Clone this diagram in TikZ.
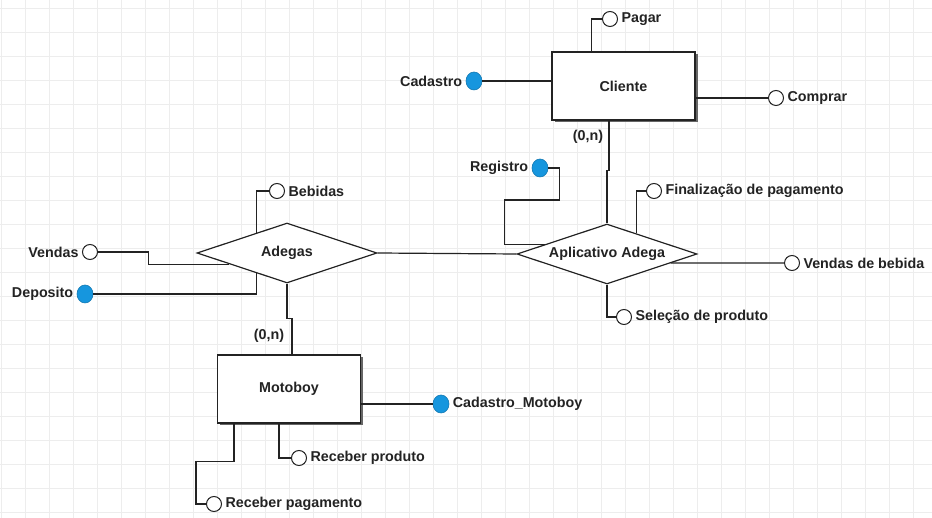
\documentclass[tikz,border=0pt]{standalone}
\usepackage{fontspec}
\setmainfont{Liberation Sans}
\usepackage{tikz}
\usetikzlibrary{shapes.geometric,shadows}
\definecolor{keyblue}{RGB}{22,150,222}
\definecolor{inkgray}{RGB}{35,35,35}

\begin{document}
\begin{tikzpicture}[x=1pt, y=-1pt,
		font=\fontsize{14.3}{16}\selectfont\bfseries, text=inkgray,
		gridline/.style={draw=black!7, line width=0.8pt},
		link/.style={draw=inkgray, line width=1.2pt},
		entity/.style={draw=inkgray, fill=white, line width=1.2pt, minimum width=143pt, minimum height=68pt,
			drop shadow={shadow xshift=2.5pt, shadow yshift=-2.5pt, fill=black!60, opacity=1}},
		relation/.style={diamond, draw=inkgray, fill=white, line width=1.2pt, inner sep=0pt, aspect=3,
			minimum width=180pt, minimum height=60pt},
		attr/.style={circle, draw=inkgray, fill=white, line width=1pt, inner sep=0pt, minimum size=15pt, label distance=2.5pt},
		keyattr/.style={ellipse, draw=keyblue!80!black, fill=keyblue, line width=0.6pt, inner sep=0pt,
			minimum width=16pt, minimum height=18pt, label distance=1.5pt},
		card/.style={inner sep=1pt}]
			% canvas
			\useasboundingbox (0,0) rectangle (932,518);
			\fill[white] (0,0) rectangle (932,518);
			\foreach \gx in {1,25,...,931} \draw[gridline] (\gx,0) -- (\gx,518);
			\foreach \gy in {8,32,...,512} \draw[gridline] (0,\gy) -- (932,\gy);
			% entities and relations
			\node[entity] (cliente) at (623.5,86) {Cliente};
			\node[entity] (motoboy) at (289,389) {Motoboy};
			\node[relation] (adegas) at (287,253) {Adegas};
			\node[relation] (aplicativo) at (607,254) {Aplicativo Adega};
			% attributes
			\node[attr, label=right:Pagar] (pagar) at (610,19) {};
			\node[keyattr, label=left:Cadastro] (cadastro) at (474,81) {};
			\node[attr, label=right:Comprar] (comprar) at (776,98) {};
			\node[keyattr, label=left:Registro] (registro) at (540,168) {};
			\node[attr, label=right:Finalização de pagamento] (finalizacao) at (654,191) {};
			\node[attr, label=right:Vendas de bebida] (vendasbebida) at (792,263) {};
			\node[attr, label=right:Seleção de produto] (selecao) at (624,317) {};
			\node[attr, label=right:Bebidas] (bebidas) at (277,191) {};
			\node[attr, label=left:Vendas] (vendas) at (90,252) {};
			\node[keyattr, label=left:Deposito] (deposito) at (85,294) {};
			\node[keyattr, label=right:Cadastro\_Motoboy] (cadmotoboy) at (441,404) {};
			\node[attr, label=right:Receber produto] (recproduto) at (299,458) {};
			\node[attr, label=right:Receber pagamento] (recpagamento) at (214,504) {};
			% cardinalities
			\node[card] (cardcliente) at (588,137) {(0,n)};
			\node[card] (cardadegas) at (269,336) {(0,n)};
			% connectors
			\draw[link] ([xshift=40pt]cliente.north west) |- (pagar);
			\draw[link] (cadastro) -- (cadastro -| cliente.west);
			\draw[link] (comprar -| cliente.east) -- (comprar);
			\draw[link] ([xshift=-14.5pt]cliente.south) -- ++(0,50) -| (aplicativo.north);
			\draw[link] (registro.east) -- ++(11,0) -- ++(0,32) -- ++(-55,0) |- (aplicativo.171);
			\draw[link] (aplicativo.35) |- (finalizacao);
			\draw[link] (aplicativo.-8) -- (vendasbebida);
			\draw[link] (aplicativo.south) |- (selecao);
			\draw[link] (adegas.east) -- (aplicativo.west);
			\draw[link] (adegas.146) |- (bebidas);
			\draw[link] (vendas.east) -- ++(50.5,0) |- (adegas.191);
			\draw[link] (deposito) -| (adegas.214);
			\draw[link] (adegas.south) -- ++(0,35) -| ([xshift=3pt]motoboy.north);
			\draw[link] (motoboy.east |- cadmotoboy) -- (cadmotoboy);
			\draw[link] ([xshift=-10pt]motoboy.south) |- (recproduto);
			\draw[link] ([xshift=-55pt]motoboy.south) -- ++(0,38) -- ++(-38,0) |- (recpagamento);
		\end{tikzpicture}
\end{document}
